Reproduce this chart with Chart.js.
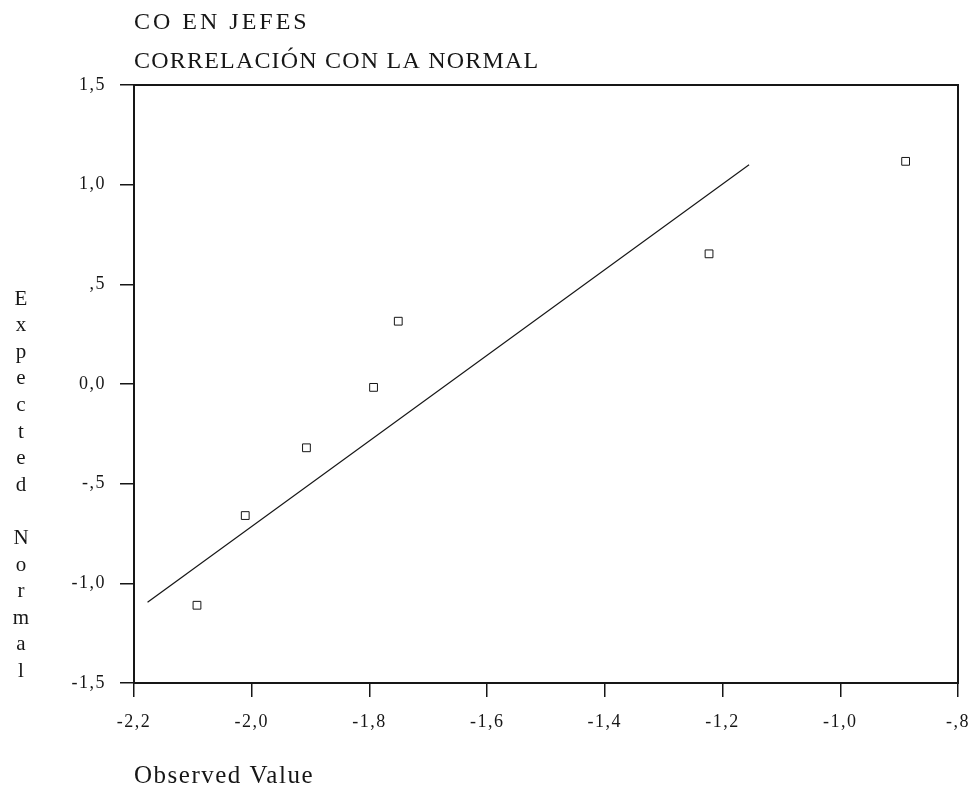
<!DOCTYPE html>
<html lang="es">
<head>
<meta charset="UTF-8">
<title>CO EN JEFES - Correlación con la normal</title>
<script src="https://cdn.jsdelivr.net/npm/chart.js"></script>
<style>
  html, body { margin: 0; padding: 0; background: #fff; }
  #wrap { width: 970px; height: 805px; }
</style>
</head>
<body>
<div id="wrap"><canvas id="chart" width="970" height="805"></canvas></div>
<script>
// data
const titleLines = ['CO EN JEFES', 'CORRELACIÓN CON LA NORMAL'];
const xTitle = 'Observed Value';
const yTitle = 'Expected Normal';

const observed = [-2.093, -2.011, -1.907, -1.793, -1.751, -1.223, -0.889];
const expected = [-1.11, -0.66, -0.32, -0.017, 0.315, 0.653, 1.117];

// reference line end points
const lineX = [-2.177, -1.155];
const lineY = [-1.095, 1.10];

const xTickValues = [-2.2, -2.0, -1.8, -1.6, -1.4, -1.2, -1.0, -0.8];
const xTickLabels = ['-2,2', '-2,0', '-1,8', '-1,6', '-1,4', '-1,2', '-1,0', '-,8'];
const yTickValues = [-1.5, -1.0, -0.5, 0, 0.5, 1.0, 1.5];
const yTickLabels = ['-1,5', '-1,0', '-,5', '0,0', ',5', '1,0', '1,5'];

const ink = '#161616';
const serif = '"Liberation Serif", "Times New Roman", serif';

function labelFor(values, labels, v) {
  const i = values.findIndex(t => Math.abs(t - v) < 1e-6);
  return i >= 0 ? labels[i] : '';
}

// frame, titles and the stacked y title
const decor = {
  id: 'decor',
  beforeDraw(chart) {
    chart.ctx.letterSpacing = '1.5px';
  },
  afterDraw(chart) {
    const ctx = chart.ctx;
    const a = chart.chartArea;
    ctx.save();
    ctx.strokeStyle = ink;
    ctx.lineWidth = 2;
    ctx.strokeRect(a.left, a.top, a.right - a.left, a.bottom - a.top);

    ctx.fillStyle = ink;
    ctx.font = '24px ' + serif;
    ctx.textAlign = 'left';
    ctx.textBaseline = 'alphabetic';
    ctx.letterSpacing = '3px';
    ctx.fillText(titleLines[0], a.left, 29);
    ctx.letterSpacing = '1.2px';
    ctx.fillText(titleLines[1], a.left, 68);

    ctx.letterSpacing = '0px';
    ctx.font = '21px ' + serif;
    ctx.textAlign = 'center';
    ctx.textBaseline = 'middle';
    const letters = yTitle.split('');
    const top = 299, step = 26.6;
    letters.forEach((ch, i) => {
      if (ch !== ' ') ctx.fillText(ch, 21, top + i * step);
    });
    ctx.restore();
  }
};

new Chart(document.getElementById('chart'), {
  type: 'scatter',
  data: {
    datasets: [
      {
        label: 'Observed',
        data: observed.map((x, i) => ({ x: x, y: expected[i] })),
        pointStyle: 'rect',
        pointRadius: 5.5,
        pointBorderWidth: 1,
        pointBorderColor: ink,
        pointBackgroundColor: '#fff',
        showLine: false
      },
      {
        type: 'line',
        label: 'Normal',
        data: lineX.map((x, i) => ({ x: x, y: lineY[i] })),
        borderColor: ink,
        borderWidth: 1.2,
        pointRadius: 0,
        fill: false
      }
    ]
  },
  options: {
    responsive: false,
    animation: false,
    layout: { padding: { left: 0, top: 85, right: 12, bottom: 0 } },
    plugins: {
      legend: { display: false },
      tooltip: { enabled: false },
      title: { display: false }
    },
    scales: {
      x: {
        type: 'linear',
        min: -2.2,
        max: -0.8,
        afterBuildTicks: s => { s.ticks = xTickValues.map(v => ({ value: v })); },
        afterFit: s => { s.height = 122; s.paddingLeft = 0; s.paddingRight = 0; },
        border: { display: true, color: ink, width: 2 },
        grid: { drawOnChartArea: false, drawTicks: true, tickLength: 14, color: ink, lineWidth: 1.5 },
        ticks: {
          color: ink,
          padding: 14,
          maxRotation: 0,
          font: { family: serif, size: 18 },
          callback: v => labelFor(xTickValues, xTickLabels, v)
        },
        title: {
          display: true,
          text: xTitle,
          align: 'start',
          color: ink,
          font: { family: serif, size: 25 },
          padding: { top: 0, bottom: 14 }
        }
      },
      y: {
        type: 'linear',
        min: -1.5,
        max: 1.5,
        afterBuildTicks: s => { s.ticks = yTickValues.map(v => ({ value: v })); },
        afterFit: s => { s.width = 134; s.paddingTop = 0; s.paddingBottom = 0; },
        border: { display: true, color: ink, width: 2 },
        grid: { drawOnChartArea: false, drawTicks: true, tickLength: 14, color: ink, lineWidth: 1.5 },
        ticks: {
          color: ink,
          padding: 14,
          font: { family: serif, size: 18 },
          callback: v => labelFor(yTickValues, yTickLabels, v)
        }
      }
    }
  },
  plugins: [decor]
});
</script>
</body>
</html>
